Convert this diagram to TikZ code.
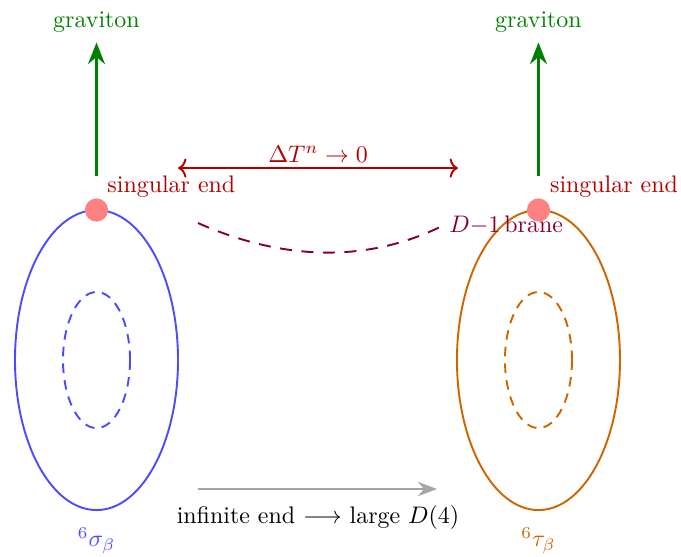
\documentclass[tikz,border=0pt]{standalone}
\usetikzlibrary{arrows.meta}
\begin{document}
\begin{tikzpicture}[x=1cm, y=1cm,
    loop/.style={draw=#1, thick},
    inner/.style={draw=#1, thick, dash pattern=on 4pt off 3pt},
    spot/.style={circle, fill=red!50, inner sep=0pt, minimum size=0.34cm},
    grav/.style={-{Stealth[length=9pt, width=7pt]}, draw=green!50!black, line width=1.6pt, shorten >=2pt},
    lbl/.style={text=#1, inner sep=2pt}]
  \colorlet{sigblue}{blue!70}
  \colorlet{tauorange}{orange!80!black}
  \colorlet{endred}{red!70!black}
  \colorlet{branepurple}{purple!70!black}
  \useasboundingbox (0,0) rectangle (10,8.165);
  % ---- the two loops -------------------------------------------------------
  \draw[loop=sigblue] (1.417,2.878) ellipse [x radius=1.197, y radius=2.203];
  \draw[inner=sigblue] (1.417,2.878) ellipse [x radius=0.492, y radius=0.999];
  \draw[loop=tauorange] (7.907,2.878) ellipse [x radius=1.197, y radius=2.203];
  \draw[inner=tauorange] (7.907,2.878) ellipse [x radius=0.492, y radius=0.999];
  \node[spot] (sL) at (1.417,5.081) {};
  \node[spot] (sR) at (7.907,5.081) {};
  \node[lbl=sigblue] (sig) at (1.417,0.23) {${}^6\sigma_\beta$};
  \node[lbl=tauorange] (tau) at (7.907,0.23) {${}^6\tau_\beta$};
  % ---- singular ends and gravitons -----------------------------------------
  \node[lbl=endred, anchor=west] (endL) at (1.50,5.418) {singular end};
  \node[lbl=endred, anchor=west] (endR) at (8.00,5.418) {singular end};
  \node[lbl=green!50!black] (gravL) at (1.417,7.841) {graviton};
  \node[lbl=green!50!black] (gravR) at (7.907,7.841) {graviton};
  \coordinate (gL) at (1.417,5.580);
  \coordinate (gR) at (7.907,5.580);
  \draw[grav] (gL) -- (gravL);
  \draw[grav] (gR) -- (gravR);
  % ---- separation ----------------------------------------------------------
  \coordinate (dL) at (2.614,5.697);
  \coordinate (dR) at (6.725,5.697);
  \draw[{To[length=3.5pt, width=8pt]}-{To[length=3.5pt, width=8pt]}, endred, thick] (dL) -- node[above, inner sep=2pt] {$\Delta T^n \to 0$} (dR);
  % ---- brane ---------------------------------------------------------------
  \coordinate (bL) at (2.907,4.890);
  \node[lbl=branepurple, anchor=west] (brane) at (6.52,4.860) {$D{-}1$\,brane};
  \draw[branepurple, thick, dash pattern=on 5pt off 4pt] (bL) .. controls (3.9,4.45) and (5.2,4.20) .. (brane.west);
  % ---- infinite end --------------------------------------------------------
  \coordinate (iL) at (2.907,0.984);
  \coordinate (iR) at (6.417,0.984);
  \draw[-{Stealth[length=8pt, width=6pt]}, black!35, thick] (iL) -- (iR);
  \node (inf) at (4.670,0.573) {infinite end $\longrightarrow$ large $D(4)$};
\end{tikzpicture}
\end{document}
